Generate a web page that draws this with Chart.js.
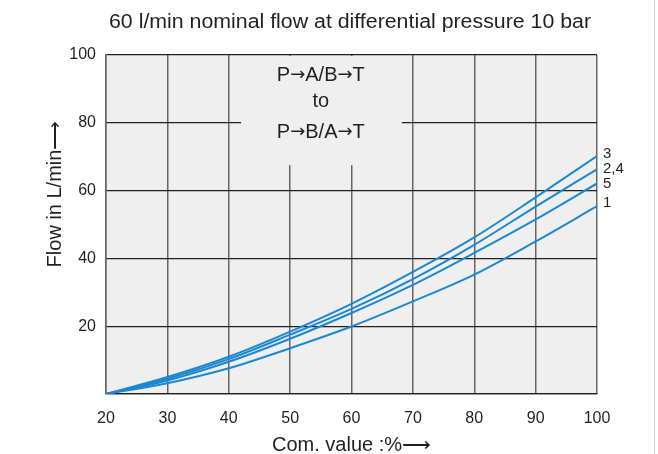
<!DOCTYPE html>
<html>
<head>
<meta charset="utf-8">
<script src="https://cdn.jsdelivr.net/npm/chart.js@4"></script>
<style>
  html, body { margin: 0; padding: 0; background: #fff; }
  #wrap { width: 658px; height: 454px; }
</style>
</head>
<body>
<div id="wrap"><canvas id="flowChart" width="658" height="454"></canvas></div>
<script>
const comValues = [20, 30, 40, 50, 60, 70, 80, 90, 100];
const flow3 = [0, 5.0, 11.0, 18.4, 26.6, 36.0, 46.2, 58.0, 70.2];
const flow24 = [0, 4.5, 10.3, 17.5, 25.1, 33.9, 44.0, 55.3, 66.3];
const flow5 = [0, 4.0, 9.5, 16.3, 23.9, 32.2, 41.6, 51.5, 62.1];
const flow1 = [0, 3.2, 7.6, 13.5, 19.9, 27.3, 35.2, 45.0, 55.4];
const curveLabels = ["3", "2,4", "5", "1"];
const yTickValues = [20, 40, 60, 80, 100];

const font = "'Liberation Sans', Arial, sans-serif";
const arrowFont = "'DejaVu Sans', sans-serif";
const textColor = "#231f20";
const lineColor = "#1b88cf";

function points(values) {
  return comValues.map(function(x, i) {
    return { x: x, y: values[i] };
  });
}

const seriesList = [flow3, flow24, flow5, flow1];

// draw text centred at cx, with arrows set in a font that has a proper arrow
function drawMixed(ctx, text, cx, cy, size) {
  const parts = text.split(/(\u2192)/).filter(function(p) { return p !== ""; });
  const fonts = parts.map(function(p) {
    return p === "\u2192" ? (size - 2) + "px " + arrowFont : size + "px " + font;
  });
  let total = 0;
  const widths = parts.map(function(p, i) {
    ctx.font = fonts[i];
    const w = ctx.measureText(p).width;
    total += w;
    return w;
  });
  let x = cx - total / 2;
  ctx.textAlign = "left";
  parts.forEach(function(p, i) {
    ctx.font = fonts[i];
    ctx.fillText(p, x, cy);
    x += widths[i];
  });
  ctx.textAlign = "center";
}

const decorations = {
  id: "decorations",
  beforeDatasetsDraw: function(chart) {
    const ctx = chart.ctx;
    const xs = chart.scales.x;
    const ys = chart.scales.y;
    // text box covering part of the grid
    const left = xs.getPixelForValue(42);
    const right = xs.getPixelForValue(68.2);
    const top = ys.getPixelForValue(100) + 1;
    const bottom = ys.getPixelForValue(67.5);
    ctx.save();
    ctx.fillStyle = "#efefef";
    ctx.fillRect(left, top, right - left, bottom - top);
    ctx.restore();
  },
  afterDraw: function(chart) {
    const ctx = chart.ctx;
    const xs = chart.scales.x;
    const ys = chart.scales.y;
    const area = chart.chartArea;
    ctx.save();
    ctx.fillStyle = textColor;
    ctx.textAlign = "center";
    ctx.textBaseline = "middle";

    // title, squeezed to the width of the original
    const title = "60 l/min nominal flow at differential pressure 10 bar";
    ctx.font = "20px " + font;
    const tw = ctx.measureText(title).width;
    ctx.save();
    ctx.translate(350, 22);
    ctx.scale(482 / tw, 1);
    ctx.fillText(title, 0, 0);
    ctx.restore();

    // box text
    const cx = xs.getPixelForValue(55);
    const top = ys.getPixelForValue(100);
    drawMixed(ctx, "P\u2192A/B\u2192T", cx, top + 20, 20);
    ctx.font = "20px " + font;
    ctx.fillText("to", cx, top + 46);
    drawMixed(ctx, "P\u2192B/A\u2192T", cx, top + 77, 20);

    // curve labels at line ends
    ctx.font = "15px " + font;
    ctx.textAlign = "left";
    const offsets = [-2, 0, 0, -3];
    seriesList.forEach(function(values, i) {
      const y = ys.getPixelForValue(values[values.length - 1]);
      ctx.fillText(curveLabels[i], area.right + 6, y + offsets[i]);
    });

    // axis titles
    ctx.textAlign = "center";
    ctx.font = "20px " + font;
    ctx.fillText("Com. value :%\u27F6", (area.left + area.right) / 2, 445);
    ctx.translate(55, 194);
    ctx.rotate(-Math.PI / 2);
    ctx.fillText("Flow in L/min\u27F6", 0, 0);
    ctx.restore();

    // faint frame line at right edge
    ctx.save();
    ctx.strokeStyle = "#d0d0d0";
    ctx.lineWidth = 1;
    ctx.beginPath();
    ctx.moveTo(654.5, 0);
    ctx.lineTo(654.5, 454);
    ctx.stroke();
    ctx.restore();
  }
};

const plotBackground = {
  id: "plotBackground",
  beforeDraw: function(chart) {
    const a = chart.chartArea;
    chart.ctx.save();
    chart.ctx.fillStyle = "#efefef";
    chart.ctx.fillRect(a.left, a.top, a.right - a.left, a.bottom - a.top);
    chart.ctx.restore();
  }
};

new Chart(document.getElementById("flowChart"), {
  type: "line",
  data: {
    datasets: seriesList.map(function(values, i) {
      return {
        label: curveLabels[i],
        data: points(values),
        borderColor: lineColor,
        borderWidth: 2,
        pointRadius: 0,
        fill: false,
        cubicInterpolationMode: "monotone"
      };
    })
  },
  options: {
    responsive: false,
    animation: false,
    layout: {
      padding: { left: 0, right: 61, top: 55, bottom: 0 }
    },
    plugins: {
      legend: { display: false },
      tooltip: { enabled: false }
    },
    scales: {
      x: {
        type: "linear",
        min: 20,
        max: 100,
        afterFit: function(scale) { scale.height = 60; },
        ticks: {
          stepSize: 10,
          padding: 15,
          color: textColor,
          font: { family: font, size: 16 }
        },
        grid: {
          color: "#6a6464",
          lineWidth: 1.5,
          drawTicks: false
        },
        border: { color: textColor, width: 1.3 }
      },
      y: {
        min: 0,
        max: 100,
        afterFit: function(scale) { scale.width = 106; },
        afterBuildTicks: function(scale) {
          scale.ticks = [{ value: 0 }].concat(yTickValues.map(function(v) { return { value: v }; }));
        },
        ticks: {
          padding: 10,
          color: textColor,
          font: { family: font, size: 16 },
          callback: function(value) {
            return value === 0 ? "" : value;
          }
        },
        grid: {
          color: textColor,
          lineWidth: 1.3,
          drawTicks: false
        },
        border: { color: "#6a6464", width: 1.5 }
      }
    }
  },
  plugins: [plotBackground, decorations]
});
</script>
</body>
</html>
